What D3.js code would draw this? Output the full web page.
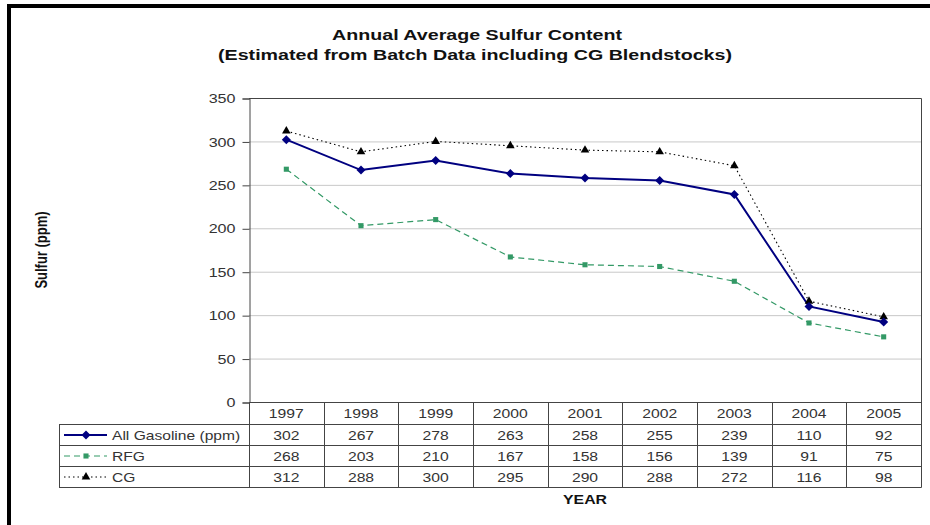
<!DOCTYPE html>
<html>
<head>
<meta charset="utf-8">
<script src="https://cdn.jsdelivr.net/npm/d3@7"></script>
<style>
  body { margin: 0; background: #fff; }
  svg text { font-family: "Liberation Sans", Arial, sans-serif; }
</style>
</head>
<body>
<svg id="chart" width="930" height="525"></svg>
<script>
var years = ["1997", "1998", "1999", "2000", "2001", "2002", "2003", "2004", "2005"];
var allGasoline = [302, 267, 278, 263, 258, 255, 239, 110, 92];
var rfg = [268, 203, 210, 167, 158, 156, 139, 91, 75];
var cg = [312, 288, 300, 295, 290, 288, 272, 116, 98];
var seriesNames = ["All Gasoline (ppm)", "RFG", "CG"];
var yTicks = [0, 50, 100, 150, 200, 250, 300, 350];

var svg = d3.select("#chart"),
  MARGINS = { top: 98, right: 9, bottom: 123, left: 249 },
  WIDTH = 930,
  HEIGHT = 525,
  plotBottom = HEIGHT - MARGINS.bottom,
  plotRight = WIDTH - MARGINS.right,
  xScale = d3.scaleBand().domain(years).range([MARGINS.left, plotRight]).padding(0),
  yScale = d3.scaleLinear().domain([0, 350]).range([plotBottom, MARGINS.top]),
  lineColor = "#444",
  textColor = "#333",
  SX = 1.21; // the original text is a bit wider than Liberation Sans

var series = [
  { name: seriesNames[0], values: allGasoline, color: "#000080", width: 2, dash: null, marker: "diamond" },
  { name: seriesNames[1], values: rfg, color: "#339966", width: 1.2, dash: "6,4", marker: "square" },
  { name: seriesNames[2], values: cg, color: "#000", width: 1.1, dash: "1.5,3", marker: "triangle" }
];

// text placed at x,y and stretched horizontally
function addText(parent, x, y, str, size, anchor, bold, sx) {
  return parent.append("text")
    .attr("transform", "translate(" + x + "," + y + ") scale(" + (sx || SX) + ",1)")
    .attr("text-anchor", anchor || "middle")
    .style("font-size", size + "px")
    .style("font-weight", bold ? "bold" : "normal")
    .attr("fill", bold ? "#111" : textColor)
    .text(str);
}

// outer frame (only top and left visible in the crop)
svg.append("line").attr("x1", 7).attr("x2", WIDTH).attr("y1", 6).attr("y2", 6)
  .attr("stroke", "#000").attr("stroke-width", 4);
svg.append("line").attr("x1", 9).attr("x2", 9).attr("y1", 4).attr("y2", HEIGHT)
  .attr("stroke", "#000").attr("stroke-width", 4);

// title
addText(svg, 477, 40, "Annual Average Sulfur Content", 15, "middle", true, 1.31);
addText(svg, 475, 60, "(Estimated from Batch Data including CG Blendstocks)", 15, "middle", true, 1.31);

// gridlines
svg.append("g").selectAll("line")
  .data(yTicks.filter(function (d) { return d > 0 && d < 350; }))
  .enter().append("line")
  .attr("x1", MARGINS.left).attr("x2", plotRight)
  .attr("y1", function (d) { return yScale(d) + 0.5; })
  .attr("y2", function (d) { return yScale(d) + 0.5; })
  .attr("stroke", "#c8c8c8").attr("stroke-width", 1);

// plot border top/right
svg.append("path")
  .attr("d", "M" + MARGINS.left + "," + (MARGINS.top + 0.5) + "H" + (plotRight + 0.5) + "V" + plotBottom)
  .attr("fill", "none").attr("stroke", lineColor).attr("stroke-width", 1);

// y axis
var yAxis = d3.axisLeft(yScale).tickValues(yTicks).tickSize(7).tickPadding(7);
var yG = svg.append("g").attr("transform", "translate(" + (MARGINS.left + 0.5) + ",0.5)").call(yAxis);
yG.select(".domain").attr("stroke", lineColor);
yG.selectAll(".tick line").attr("stroke", lineColor);
yG.selectAll(".tick text").attr("fill", textColor).style("font-size", "13px")
  .style("font-family", "'Liberation Sans', Arial, sans-serif")
  .attr("x", -14 / 1.24).attr("transform", "scale(1.24,1)");

svg.append("text")
  .attr("transform", "translate(46.5," + ((MARGINS.top + plotBottom) / 2) + ") rotate(-90) scale(1,1.2)")
  .attr("text-anchor", "middle").style("font-weight", "bold").style("font-size", "13px")
  .attr("fill", "#111").text("Sulfur (ppm)");

// lines and markers
var line = d3.line()
  .x(function (d, i) { return xScale(years[i]) + xScale.bandwidth() / 2; })
  .y(function (d) { return yScale(d); });

var symbolType = { diamond: d3.symbolDiamond2, square: d3.symbolSquare, triangle: d3.symbolTriangle };
var symbolSize = { diamond: 52, square: 26, triangle: 32 };

series.forEach(function (s) {
  svg.append("path").datum(s.values)
    .attr("d", line).attr("fill", "none")
    .attr("stroke", s.color).attr("stroke-width", s.width)
    .attr("stroke-dasharray", s.dash);
});
series.slice().reverse().forEach(function (s) {
  svg.append("g").selectAll("path").data(s.values).enter().append("path")
    .attr("d", d3.symbol().type(symbolType[s.marker]).size(symbolSize[s.marker]))
    .attr("transform", function (d, i) {
      return "translate(" + (xScale(years[i]) + xScale.bandwidth() / 2) + "," + yScale(d) + ")";
    })
    .attr("fill", s.color);
});

// data table
var headerBottom = plotBottom + 22,
  rowH = 21,
  tableLeft = 59,
  tableBottom = headerBottom + rowH * 3,
  tbl = svg.append("g").attr("stroke", lineColor).attr("stroke-width", 1);

tbl.append("line").attr("x1", MARGINS.left).attr("x2", plotRight + 0.5)
  .attr("y1", plotBottom + 0.5).attr("y2", plotBottom + 0.5);
[0, 1, 2, 3].forEach(function (r) {
  var y = headerBottom + r * rowH + 0.5;
  tbl.append("line").attr("x1", tableLeft).attr("x2", plotRight + 0.5).attr("y1", y).attr("y2", y);
});
years.forEach(function (yr) {
  var x = Math.round(xScale(yr)) + 0.5;
  tbl.append("line").attr("x1", x).attr("x2", x).attr("y1", plotBottom).attr("y2", tableBottom + 0.5);
});
tbl.append("line").attr("x1", plotRight + 0.5).attr("x2", plotRight + 0.5)
  .attr("y1", plotBottom).attr("y2", tableBottom + 0.5);
tbl.append("line").attr("x1", tableLeft + 0.5).attr("x2", tableLeft + 0.5)
  .attr("y1", headerBottom).attr("y2", tableBottom + 0.5);

var headG = svg.append("g");
years.forEach(function (yr) {
  addText(headG, xScale(yr) + xScale.bandwidth() / 2, plotBottom + 16, yr, 13);
});

series.forEach(function (s, r) {
  var cy = headerBottom + r * rowH + rowH / 2,
    rowG = svg.append("g");
  s.values.forEach(function (v, i) {
    addText(rowG, xScale(years[i]) + xScale.bandwidth() / 2, cy + 5, v, 13);
  });
  // legend key
  svg.append("line").attr("x1", 64).attr("x2", 107).attr("y1", cy + 0.5).attr("y2", cy + 0.5)
    .attr("stroke", s.color).attr("stroke-width", s.width).attr("stroke-dasharray", s.dash);
  svg.append("path")
    .attr("d", d3.symbol().type(symbolType[s.marker]).size(symbolSize[s.marker]))
    .attr("transform", "translate(86," + (cy + 0.5) + ")").attr("fill", s.color);
  addText(rowG, 112, cy + 5, s.name, 13, "start", false, 1.2);
});

addText(svg, (MARGINS.left + plotRight) / 2, tableBottom + 17, "YEAR", 13, "middle", true, 1.22);
</script>
</body>
</html>
